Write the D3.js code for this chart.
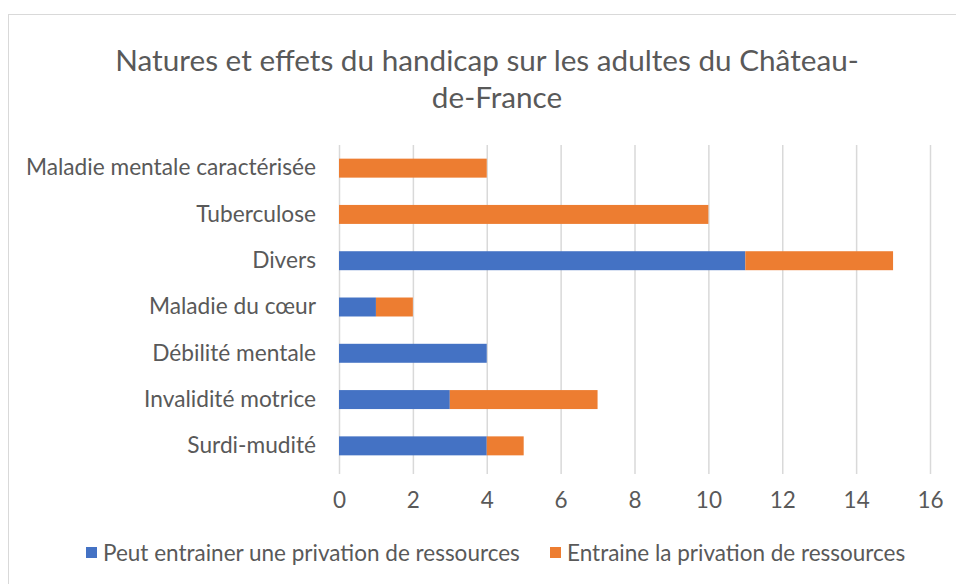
<!DOCTYPE html>
<html><head><meta charset="utf-8">
<script src="https://cdn.jsdelivr.net/npm/d3@7"></script>
<style>
body{margin:0;background:#fff;}
svg{display:block;font-family:Lato, "Open Sans", sans-serif;}
</style></head>
<body>
<svg id="chart" width="956" height="584"></svg>
<script>
const categories = ["Maladie mentale caractérisée","Tuberculose","Divers","Maladie du cœur","Débilité mentale","Invalidité motrice","Surdi-mudité"];
const seriesNames = ["Peut entrainer une privation de ressources","Entraine la privation de ressources"];
const peutValues = [0,0,11,1,4,3,4];
const entraineValues = [4,10,4,1,0,4,1];
const tickValues = [0,2,4,6,8,10,12,14,16];
const colors = ["#4472C4","#ED7D31"];
const titleLines = ["Natures et effets du handicap sur les adultes du Château-","de-France"];

const svg = d3.select("#chart");
const textColor = "#595959";

svg.append("rect").attr("x",8.5).attr("y",14.5).attr("width",960).attr("height",600)
  .attr("fill","#fff").attr("stroke","#d9d9d9").attr("stroke-width",1);

const x = d3.scaleLinear().domain([0,16]).range([339,930]);
const y = d3.scaleBand().domain(categories).range([145,469]).paddingInner(0.59).paddingOuter(0.295);

// title
svg.append("text").attr("fill",textColor).attr("font-size",29.7).attr("text-anchor","middle")
  .selectAll("tspan").data(titleLines).join("tspan")
  .attr("x",(d,i)=> i===0?487:497).attr("y",(d,i)=>71+i*37).text(d=>d);

// grid
const xAxis = d3.axisBottom(x).tickValues(tickValues).tickSize(-(469-145)).tickSizeOuter(0).tickPadding(23);
const gx = svg.append("g").attr("transform","translate(0,469)").call(xAxis);
gx.select(".domain").remove();
gx.selectAll(".tick line").attr("stroke","#d9d9d9").attr("stroke-width",1.5).attr("y2",-(469-145)).attr("y1",5);
gx.selectAll(".tick text").attr("fill",textColor).attr("font-size",22.5).attr("font-family","Lato, sans-serif");

// stacked data
const stackData = categories.map((c,i)=>({cat:c, peut:peutValues[i], entraine:entraineValues[i]}));
const stack = d3.stack().keys(["peut","entraine"]);
const layers = stack(stackData);

svg.append("g").selectAll("g").data(layers).join("g")
  .attr("fill",(d,i)=>colors[i])
  .selectAll("rect").data(d=>d).join("rect")
  .attr("x",d=>x(d[0])).attr("width",d=>x(d[1])-x(d[0]))
  .attr("y",d=>y(d.data.cat)).attr("height",y.bandwidth());

// category labels
const yAxis = d3.axisLeft(y).tickSize(0).tickPadding(23);
const gy = svg.append("g").attr("transform","translate(339,0)").call(yAxis);
gy.select(".domain").remove();
gy.selectAll(".tick text").attr("fill",textColor).attr("font-size",22.7).attr("font-family","Lato, sans-serif");

// legend
const legendX = [86,550];
const lg = svg.append("g").selectAll("g").data(seriesNames).join("g")
  .attr("transform",(d,i)=>`translate(${legendX[i]},0)`);
lg.append("rect").attr("x",0).attr("y",547).attr("width",11).attr("height",11).attr("fill",(d,i)=>colors[i]);
lg.append("text").attr("x",17).attr("y",561).attr("fill",textColor).attr("font-size",22.5).text(d=>d);
</script>
</body></html>
